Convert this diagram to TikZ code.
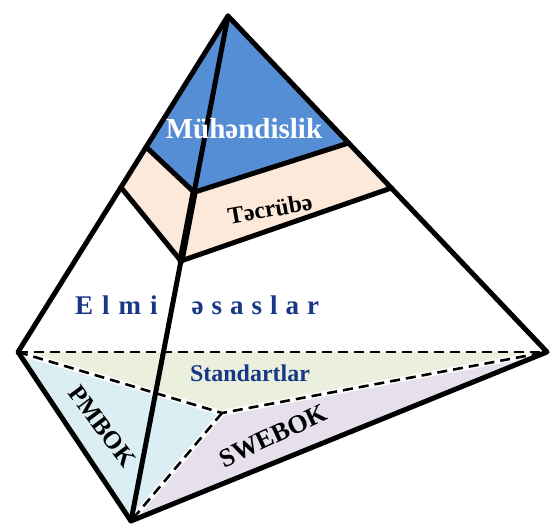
\documentclass[tikz,border=0pt]{standalone}
\usepackage{fontspec}
\setmainfont{Liberation Serif}
\usetikzlibrary{calc}
\usepackage{xcolor}
\definecolor{topcolor}{RGB}{85,142,213}
\definecolor{bandcolor}{RGB}{253,233,217}
\definecolor{stdcolor}{RGB}{235,240,222}
\definecolor{pmcolor}{RGB}{219,238,244}
\definecolor{swecolor}{RGB}{229,224,236}
\definecolor{labelcolor}{RGB}{25,55,135}

\begin{document}
\begin{tikzpicture}[x=1pt,y=-1pt]
  \tikzset{
    edge/.style={line width=5pt, line join=round, line cap=round},
    hidden/.style={line width=2.6pt, dash pattern=on 10pt off 6pt},
    gap/.style={white, line width=5.5pt},
    label/.style={inner sep=0pt}
  }
  \useasboundingbox (0,0) rectangle (555,526);

  % Corners of the pyramid
  \coordinate (apex) at (228,16);
  \coordinate (left) at (18,352);
  \coordinate (right) at (547,352);
  \coordinate (front) at (131,521);
  \coordinate (centre) at (222,413);

  % Cuts on the edges
  \coordinate (topL) at ($(apex)!0.39!(left)$);
  \coordinate (topF) at ($(apex)!0.349!(front)$);
  \coordinate (topR) at ($(apex)!0.378!(right)$);
  \coordinate (bandL) at ($(apex)!0.51!(left)$);
  \coordinate (bandF) at ($(apex)!0.485!(front)$);
  \coordinate (bandR) at ($(apex)!0.512!(right)$);

  % Top (blue) and band (peach)
  \fill[topcolor] (apex) -- (topL) -- (topF) -- (topR) -- cycle;
  \fill[bandcolor] (topL) -- (bandL) -- (bandF) -- (bandR) -- (topR) -- (topF) -- cycle;

  % Base parts
  \fill[stdcolor] (left) -- (right) -- (centre) -- cycle;
  \fill[pmcolor] (left) -- (centre) -- (front) -- cycle;
  \fill[swecolor] (centre) -- (right) -- (front) -- cycle;

  % Hidden lines
  \draw[gap] (left) -- (centre) -- (right);
  \draw[gap] (centre) -- (front);
  \draw[hidden] (left) -- (right);
  \draw[hidden] (left) -- (centre) -- (right);
  \draw[hidden] (centre) -- (front);

  % Visible edges
  \draw[edge] (apex) -- (left) -- (front) -- (right) -- cycle;
  \draw[edge] (apex) -- (front);
  \draw[edge, line width=7pt] (topF) -- (bandF);
  \draw[edge] (topL) -- (topF) -- (topR);
  \draw[edge] (bandL) -- (bandF) -- (bandR);

  % Labels
  \node[label, anchor=base, white, font=\bfseries\fontsize{29}{32}\selectfont] (eng) at (244,139) {Mühəndislik};
  \node[label, rotate=10, font=\bfseries\fontsize{24}{28}\selectfont] (practice) at (270,209) {Təcrübə};
  \node[label, anchor=base west, labelcolor, font=\bfseries\fontsize{27}{30}\selectfont] (science) at (75,315)
    {\spaceskip=9pt E l m i\hspace{34pt}\spaceskip=8pt ə s a s l a r};
  \node[label, anchor=base, labelcolor, font=\bfseries\fontsize{24}{28}\selectfont] (std) at (250,382) {Standartlar};
  \node[label, rotate=-53, font=\bfseries\fontsize{25}{28}\selectfont] (pmbok) at (102,426) {PMBOK};
  \node[label, rotate=25, font=\bfseries\fontsize{26}{28}\selectfont] (swebok) at (273,436) {SWEBOK};
\end{tikzpicture}
\end{document}
